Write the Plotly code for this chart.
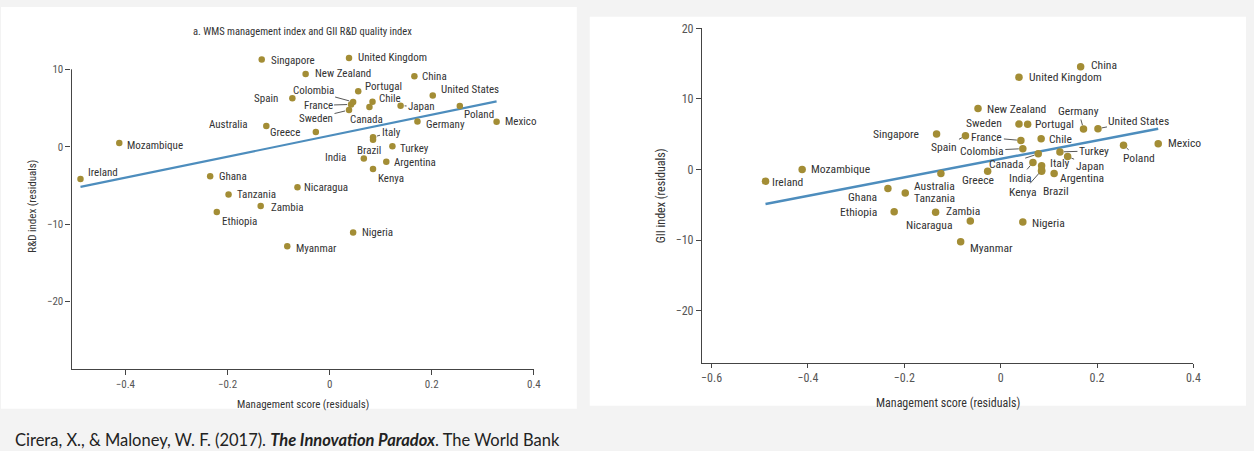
import plotly.graph_objects as go

# ---------------- data ----------------
countries = ["Ireland", "Mozambique", "Ghana", "Tanzania", "Ethiopia", "Zambia",
             "Singapore", "Australia", "Myanmar", "Spain", "Nicaragua", "New Zealand",
             "Greece", "Sweden", "United Kingdom", "France", "Colombia", "Nigeria",
             "Portugal", "India", "Canada", "Chile", "Italy", "Kenya", "Brazil",
             "Argentina", "Turkey", "Japan", "China", "Germany", "United States",
             "Poland", "Mexico"]
mgmt_score = [-0.488, -0.412, -0.234, -0.198, -0.221, -0.135,
              -0.133, -0.124, -0.083, -0.073, -0.063, -0.047,
              -0.027, 0.038, 0.038, 0.042, 0.046, 0.046,
              0.056, 0.067, 0.078, 0.084, 0.085, 0.085, 0.085,
              0.111, 0.123, 0.139, 0.166, 0.172, 0.202,
              0.255, 0.327]
rd_index = [-4.19, 0.47, -3.81, -6.19, -8.43, -7.66,
            11.27, 2.67, -12.88, 6.26, -5.25, 9.40,
            1.91, 4.74, 11.47, 5.46, 5.78, -11.1,
            7.16, -1.52, 5.12, 5.80, 1.23, -2.88, 0.89,
            -1.95, 0.04, 5.30, 9.11, 3.26, 6.61,
            5.25, 3.22]
gii_index = [-1.63, 0.0, -2.69, -3.3, -5.95, -6.03,
             5.06, -0.56, -10.2, 4.78, -7.29, 8.64,
             -0.23, 6.45, 13.09, 4.13, 2.97, -7.43,
             6.41, 1.02, 2.23, 4.36, 0.56, -0.1, -0.23,
             -0.56, 2.51, 1.85, 14.58, 5.75, 5.80,
             3.44, 3.66]
fit_x = [-0.488, 0.327]
fit_rd = [-5.2, 5.85]
fit_gii = [-4.87, 5.8]

left_xticks = [-0.4, -0.2, 0, 0.2, 0.4]
left_yticks = [-20, -10, 0, 10]
right_xticks = [-0.6, -0.4, -0.2, 0, 0.2, 0.4]
right_yticks = [-20, -10, 0, 10, 20]

title_left = "a. WMS management index and GII R&D quality index"
xtitle = "Management score (residuals)"
ytitle_left = "R&D index (residuals)"
ytitle_right = "GII index (residuals)"
caption = "Cirera, X., & Maloney, W. F. (2017). <b><i>The Innovation Paradox</i></b>. The World Bank"

# ---------------- styles ----------------
W, H = 1254, 451
NARROW = "Liberation Sans Narrow, Arial Narrow, Roboto Condensed, Liberation Sans, sans-serif"
DOT = "#a38d35"
LINE = "#4d8dbd"
TXT = "#333333"
AX = "#444444"
TICK = "#555555"

def dx(a, b):
    return [a / W, b / W]

def dy(top, bottom):
    return [1 - bottom / H, 1 - top / H]

# label placement: (dx, dy, anchor) ; anchor 'l'/'r' plain label, 'c' label with leader line
left_lab = {
    "Singapore": (7, 1, "l"), "United Kingdom": (7, 0, "l"), "New Zealand": (7, 0, "l"),
    "China": (6, 0, "l"), "Portugal": (5, -5, "l"), "Chile": (4, -3, "l"),
    "United States": (6, -6, "l"), "Poland": (2, 8, "l"), "Mexico": (6, 0, "l"),
    "Germany": (7, 3, "l"), "Greece": (-14, 1, "r"), "Turkey": (6, 2, "l"),
    "India": (-16, -1, "r"), "Argentina": (6, 1, "l"), "Kenya": (3, 10, "l"),
    "Nicaragua": (5, 0, "l"), "Nigeria": (7, 0, "l"), "Myanmar": (7, 2, "l"),
    "Zambia": (8, 2, "l"), "Tanzania": (6, 0, "l"), "Ethiopia": (3, 10, "l"),
    "Ghana": (7, 0, "l"), "Ireland": (6, -7, "l"), "Mozambique": (6, 2, "l"),
    "Australia": (-16, -2, "r"), "Spain": (-12, 0, "r"),
    "Colombia": (-40, -11, "c"), "France": (-33, 1, "c"), "Sweden": (-33, 8, "c"),
    "Canada": (-3, 12, "c"), "Japan": (21, 1, "c"), "Italy": (18, -5, "c"),
    "Brazil": (-4, 11, "c"),
}
right_lab = {
    "China": (8, -2, "l"), "United Kingdom": (8, 0, "l"), "New Zealand": (7, 0, "l"),
    "Sweden": (-15, -1, "r"), "Portugal": (5, 0, "l"), "Singapore": (-16, 0, "r"),
    "Chile": (6, 0, "l"), "Mexico": (8, -1, "l"), "Italy": (6, -3, "l"),
    "Argentina": (4, 4, "l"), "Tanzania": (7, 5, "l"), "Zambia": (8, -1, "l"),
    "Nicaragua": (-15, 4, "r"), "Nigeria": (7, 1, "l"), "Myanmar": (7, 6, "l"),
    "Ethiopia": (-15, 0, "r"), "Ghana": (-9, 8, "r"), "Mozambique": (7, -1, "l"),
    "Ireland": (4, 1, "l"),
    "Germany": (-5, -18, "c"), "United States": (41, -8, "c"), "Spain": (-21, 11, "c"),
    "France": (-34, -3, "c"), "Colombia": (-41, 2, "c"), "Canada": (-32, 10.5, "c"),
    "Turkey": (34, -1, "c"), "Japan": (22, 9, "c"), "Poland": (15, 13, "c"),
    "India": (-13, 15.5, "c"), "Kenya": (-19, 21.5, "c"), "Brazil": (14, 20, "c"),
    "Greece": (-10, 9, "c"), "Australia": (-6, 12, "c"),
}

fig = go.Figure()

fig.add_trace(go.Scatter(x=fit_x, y=fit_rd, mode="lines", xaxis="x", yaxis="y",
                         line=dict(color=LINE, width=2.2), hoverinfo="skip", showlegend=False))
fig.add_trace(go.Scatter(x=mgmt_score, y=rd_index, mode="markers", xaxis="x", yaxis="y",
                         marker=dict(color=DOT, size=6.5), text=countries,
                         cliponaxis=False, showlegend=False))
fig.add_trace(go.Scatter(x=fit_x, y=fit_gii, mode="lines", xaxis="x2", yaxis="y2",
                         line=dict(color=LINE, width=2.5), hoverinfo="skip", showlegend=False))
fig.add_trace(go.Scatter(x=mgmt_score, y=gii_index, mode="markers", xaxis="x2", yaxis="y2",
                         marker=dict(color=DOT, size=7.5), text=countries,
                         cliponaxis=False, showlegend=False))

annotations = []

def add_labels(lab, ys, xref, yref, fsize):
    for name, xv, yv in zip(countries, mgmt_score, ys):
        ox, oy, anc = lab[name]
        if anc == "c":
            annotations.append(dict(
                x=xv, y=yv, xref=xref, yref=yref, text=name, showarrow=True,
                ax=ox, ay=oy, arrowhead=0, arrowwidth=0.9, arrowcolor="#444",
                standoff=4, font=dict(family=NARROW, size=fsize, color=TXT)))
        else:
            annotations.append(dict(
                x=xv, y=yv, xref=xref, yref=yref, text=name, showarrow=False,
                xanchor="left" if anc == "l" else "right", yanchor="middle",
                xshift=ox, yshift=-oy, font=dict(family=NARROW, size=fsize, color=TXT)))

add_labels(left_lab, rd_index, "x", "y", 11)
add_labels(right_lab, gii_index, "x2", "y2", 11.6)

def paper_text(text, x, y, size, family=NARROW, angle=0, xanchor="center", color=TXT):
    return dict(text=text, x=x / W, y=1 - y / H, xref="paper", yref="paper",
                xanchor=xanchor, yanchor="middle", showarrow=False, textangle=angle,
                font=dict(family=family, size=size, color=color))

annotations += [
    paper_text(title_left, 304, 25, 10.5),
    paper_text(xtitle, 304, 404, 11),
    paper_text(xtitle, 954, 402, 12),
    paper_text(ytitle_left, 32, 202, 11, angle=-90),
    paper_text(ytitle_right, 665, 192, 12, angle=-90),
    paper_text(caption, 12, 440, 16.5, family="Lato, Open Sans, sans-serif",
               xanchor="left", color="#222"),
]

def axis_style(fsize):
    return dict(showgrid=False, zeroline=False, showline=True, linecolor=AX,
                linewidth=1, ticks="outside", ticklen=5, tickcolor=AX,
                tickfont=dict(family=NARROW, size=fsize, color=TICK))

# left y range extends above the drawn axis line (line stops at 10, as in the original)
L_TOP = 13.5
L_BOT = -28.74
PX_PER_UNIT_L = (367.7 - 63.3) / (10 - L_BOT)
left_top_px = 63.3 - (L_TOP - 10) * PX_PER_UNIT_L

fig.update_layout(
    width=W, height=H, margin=dict(l=0, r=0, t=0, b=0),
    paper_bgcolor="#f3f3f3", plot_bgcolor="rgba(0,0,0,0)",
    xaxis=dict(domain=dx(71, 536.7), range=[-0.5056, 0.4], tickvals=left_xticks,
               anchor="y", **axis_style(11)),
    yaxis=dict(domain=dy(left_top_px, 367.7), range=[L_BOT, L_TOP], tickvals=left_yticks,
               anchor="x", **{**axis_style(11), "showline": False}),
    xaxis2=dict(domain=dx(706, 1201), range=[-0.62, 0.4], tickvals=right_xticks,
                anchor="y2", **{**axis_style(12), "ticklen": 4}),
    yaxis2=dict(domain=dy(21.7, 361.7), range=[-27.39, 20], tickvals=right_yticks,
                anchor="x2", **axis_style(12)),
    shapes=[
        dict(type="rect", xref="paper", yref="paper", x0=0, x1=580 / W,
             y0=1 - 408 / H, y1=1, fillcolor="white", line=dict(width=0), layer="below"),
        dict(type="rect", xref="paper", yref="paper", x0=593 / W, x1=1,
             y0=1 - 405 / H, y1=1 - 10 / H, fillcolor="white", line=dict(width=0), layer="below"),
        dict(type="line", xref="x domain", yref="y", x0=0, x1=0, y0=L_BOT, y1=10,
             line=dict(color=AX, width=1)),
    ],
    annotations=annotations,
    showlegend=False,
)

fig.write_html(
    "out.html",
    config={"displayModeBar": False},
    post_script=(
        "document.body.style.margin='0';"
        "document.body.style.overflow='hidden';"
        "document.documentElement.style.overflow='hidden';"
    ),
)
